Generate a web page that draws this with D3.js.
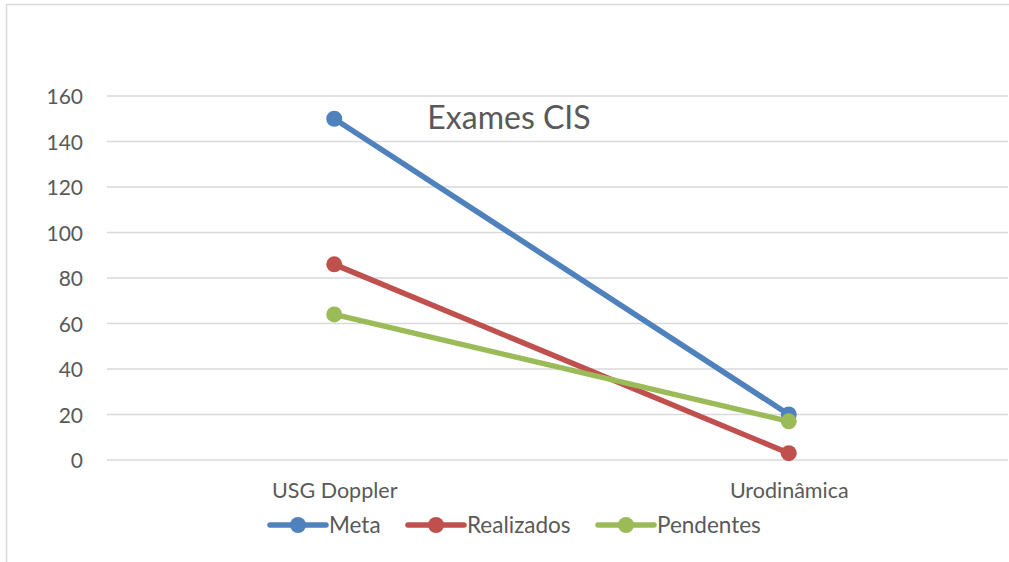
<!DOCTYPE html>
<html><head><meta charset="utf-8">
<script src="https://cdn.jsdelivr.net/npm/d3@7"></script>
<style>body{margin:0;background:#fff}svg{display:block}text{font-family:Lato,"Open Sans",sans-serif;fill:#595959}</style>
</head><body>
<svg id="c" width="1009" height="562"></svg>
<script>
const categories = ["USG Doppler", "Urodinâmica"];
const seriesNames = ["Meta", "Realizados", "Pendentes"];
const meta = [150, 20];
const realizados = [86, 3];
const pendentes = [64, 17];
const yTicks = [0, 20, 40, 60, 80, 100, 120, 140, 160];
const colors = ["#4f81bd", "#c0504d", "#9bbb59"];
const title = "Exames CIS";

const series = [meta, realizados, pendentes];
const svg = d3.select("#c");
svg.append("rect").attr("x",6.5).attr("y",4.5).attr("width",1010).attr("height",600)
  .attr("fill","#fff").attr("stroke","#d9d9d9").attr("stroke-width",1.5);

const x = d3.scalePoint().domain(categories).range([107,1016]).padding(0.5);
const y = d3.scaleLinear().domain([0,160]).range([460,96]);

const grid = svg.append("g");
grid.selectAll("line").data(yTicks).join("line")
  .attr("x1",107).attr("x2",1008).attr("y1",d=>y(d)).attr("y2",d=>y(d))
  .attr("stroke","#d9d9d9").attr("stroke-width",1.5);

const yAxis = svg.append("g").attr("transform","translate(83,0)")
  .call(d3.axisLeft(y).tickValues(yTicks).tickSize(0).tickPadding(0));
yAxis.select(".domain").remove();
yAxis.selectAll("text").attr("font-size",21).attr("font-family","Lato").attr("fill","#595959").attr("dy","0.36em");

const xAxis = svg.append("g").attr("transform","translate(0,479)")
  .call(d3.axisBottom(x).tickSize(0).tickPadding(0));
xAxis.select(".domain").remove();
xAxis.selectAll("text").attr("font-size",21.5).attr("font-family","Lato").attr("fill","#595959").attr("dy","0.9em");

svg.append("text").attr("x",509).attr("y",129).attr("text-anchor","middle")
  .attr("font-size",32).text(title);

const line = d3.line().x((d,i)=>x(categories[i])).y(d=>y(d));
series.forEach((s,k)=>{
  const g = svg.append("g");
  g.append("path").datum(s).attr("d",line).attr("fill","none")
    .attr("stroke",colors[k]).attr("stroke-width",5.5).attr("stroke-linecap","round");
  g.selectAll("circle").data(s).join("circle")
    .attr("cx",(d,i)=>x(categories[i])).attr("cy",d=>y(d)).attr("r",8).attr("fill",colors[k]);
});

const legX = [270, 408, 598];
const lg = svg.append("g");
seriesNames.forEach((n,k)=>{
  const g = lg.append("g").attr("transform",`translate(${legX[k]},525)`);
  g.append("line").attr("x1",0).attr("x2",56).attr("stroke",colors[k]).attr("stroke-width",5.5).attr("stroke-linecap","round");
  g.append("circle").attr("cx",28).attr("r",8).attr("fill",colors[k]);
  g.append("text").attr("x",59).attr("y",8).attr("font-size",22.5).text(n);
});
</script>
</body></html>
